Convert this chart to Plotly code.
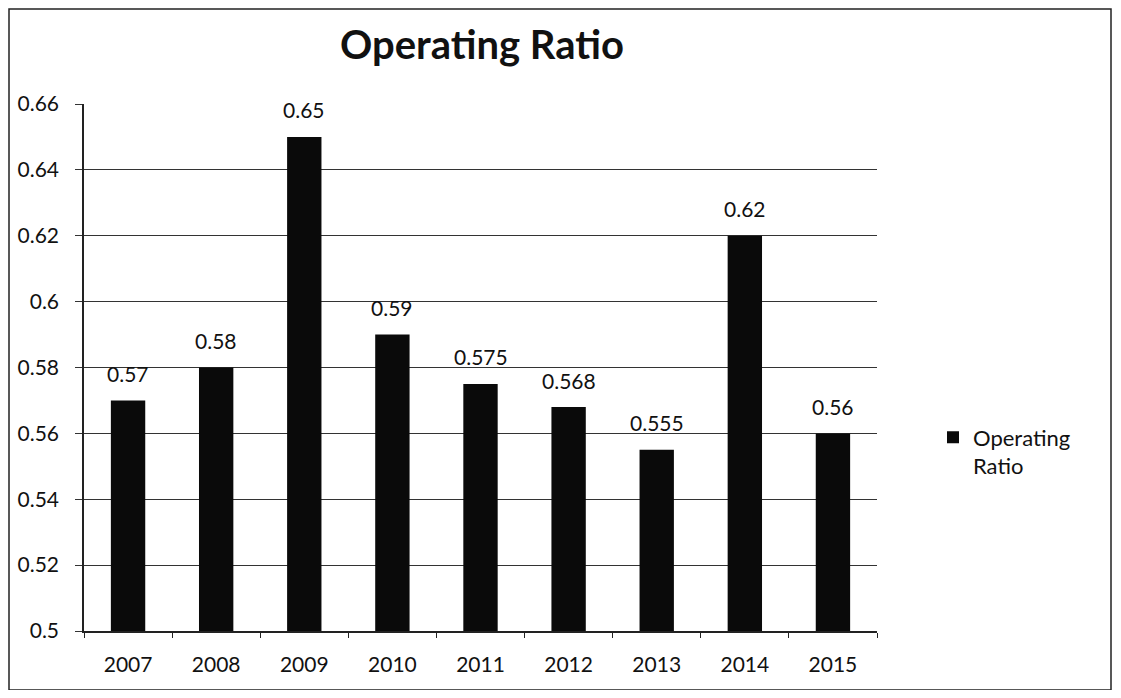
import plotly.graph_objects as go

years = ["2007", "2008", "2009", "2010", "2011", "2012", "2013", "2014", "2015"]
ratio = [0.57, 0.58, 0.65, 0.59, 0.575, 0.568, 0.555, 0.62, 0.56]
labels = ["0.57", "0.58", "0.65", "0.59", "0.575", "0.568", "0.555", "0.62", "0.56"]
y_ticks = [0.5, 0.52, 0.54, 0.56, 0.58, 0.6, 0.62, 0.64, 0.66]
y_tick_text = ["0.5", "0.52", "0.54", "0.56", "0.58", "0.6", "0.62", "0.64", "0.66"]

OFF = 8  # page body margin
W, H = 1121 - 2 * OFF, 698 - 2 * OFF
L, R, T, B = 84 - OFF, 877 - OFF, 104 - OFF, 631 - OFF
pw, ph = R - L, B - T

def px(x):
    return (x - OFF - L) / pw

def py(y):
    return (B - (y - OFF)) / ph

FONT = "Lato, Open Sans, sans-serif"

fig = go.Figure()
fig.add_trace(go.Bar(
    x=years, y=ratio, name="Operating<br>Ratio",
    marker=dict(color="#0a0a0a", line=dict(width=0)),
    cliponaxis=False,
))

for i, (v, lab) in enumerate(zip(ratio, labels)):
    fig.add_annotation(x=i, y=v, text=lab, showarrow=False, xref="x", yref="y",
                       yanchor="middle", yshift=27,
                       font=dict(size=21, color="#111", family=FONT))

fig.update_layout(
    width=W, height=H,
    margin=dict(l=L, r=W - R, t=T, b=H - B, autoexpand=False),
    paper_bgcolor="white", plot_bgcolor="white",
    font=dict(family=FONT, color="#111"),
    title=dict(text="<b>Operating Ratio</b>", x=px(482), xref="paper", xanchor="center",
               y=1 - (45 - OFF) / H, yanchor="middle", font=dict(size=40, family=FONT, color="#111")),
    bargap=0.61,
    showlegend=True,
    legend=dict(x=px(933), xanchor="left", y=py(452), yanchor="middle",
                font=dict(size=22, family=FONT, color="#111"), valign="top",
                itemwidth=30, bgcolor="rgba(0,0,0,0)"),
    xaxis=dict(type="category", range=[-0.5, len(years) - 0.5],
               showline=True, linecolor="#222", linewidth=1.5, ticks="outside",
               tickson="boundaries", ticklen=5, tickcolor="#222", ticklabelstandoff=14,
               tickangle=0,
               tickfont=dict(size=21, family=FONT, color="#111"), showgrid=False),
    yaxis=dict(range=[0.5, 0.66], tickvals=y_ticks, ticktext=y_tick_text,
               showline=True, linecolor="#222", linewidth=1.5, ticks="outside", ticklen=7,
               tickcolor="#333", showgrid=True, gridcolor="#333", gridwidth=1,
               ticklabelstandoff=12,
               tickfont=dict(size=21, family=FONT, color="#111"), zeroline=False),
    shapes=[dict(type="rect", xref="paper", yref="paper",
                 x0=px(9), x1=px(1111), y0=py(690), y1=py(9),
                 line=dict(color="#222", width=1.5), fillcolor="rgba(0,0,0,0)")],
)

fig.write_html("out.html")
